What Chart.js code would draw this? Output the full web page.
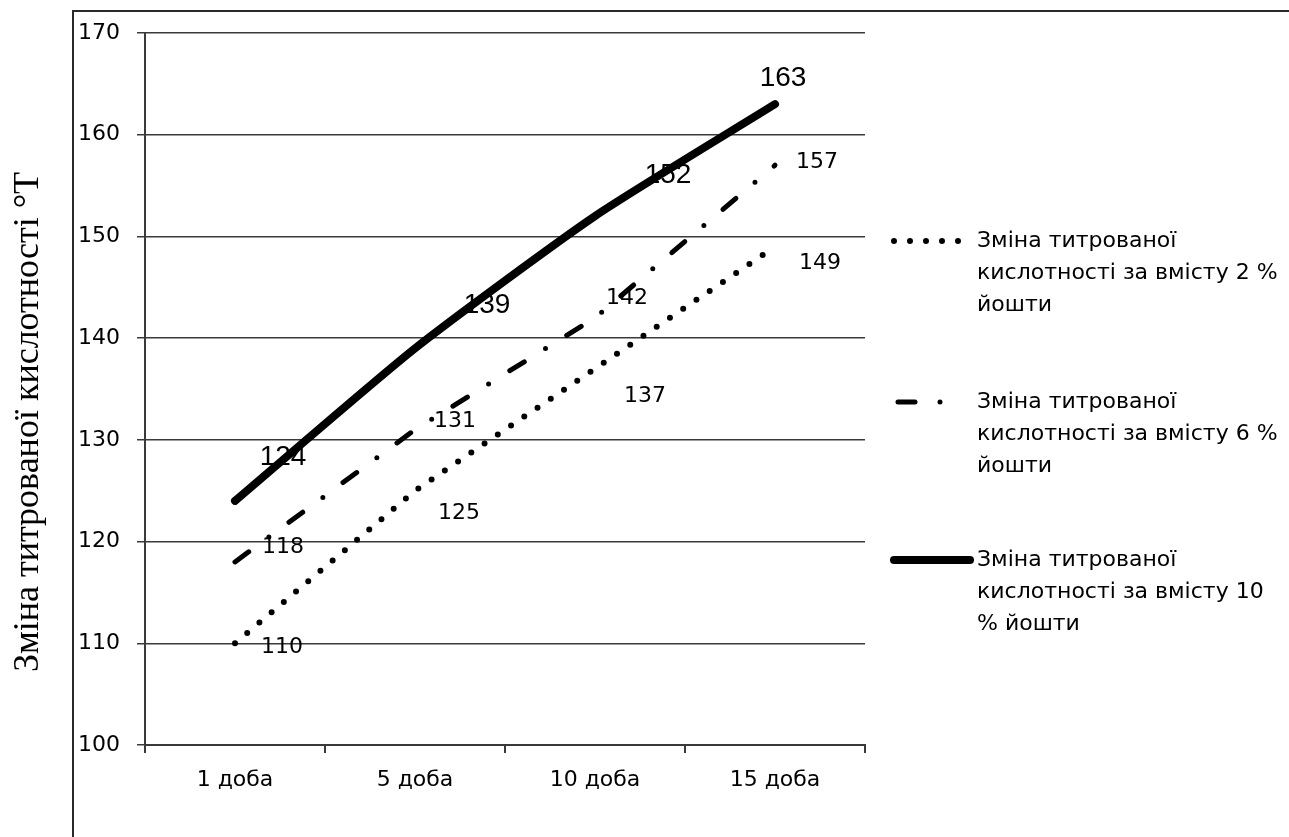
<!DOCTYPE html>
<html><head><meta charset="utf-8">
<script src="https://cdn.jsdelivr.net/npm/chart.js@4/dist/chart.umd.min.js"></script>
<style>html,body{margin:0;padding:0;background:#fff;overflow:hidden}#wrap{width:1289px;height:837px;position:relative}</style>
</head><body><div id="wrap"><canvas id="c" width="1289" height="837"></canvas></div>
<script>
// ---- data ----
const categories = ["1 доба", "5 доба", "10 доба", "15 доба"];
const seriesNames = [
  "Зміна титрованої кислотності за вмісту 2 % йошти",
  "Зміна титрованої кислотності за вмісту 6 % йошти",
  "Зміна титрованої кислотності за вмісту 10 % йошти"
];
const values2 = [110, 125, 137, 149];
const values6 = [118, 131, 142, 157];
const values10 = [124, 139, 152, 163];
const yMin = 100, yMax = 170, yStep = 10;
const yAxisTitle = "Зміна титрованої кислотності °Т";

// ---- styles ----
const INK = '#000';
const GRID = '#3a3a3a';
const labelOffsets = [
  [[47, 4], [44, 23], [50, 28], [45, 17]],
  [[48, -15], [40, -8], [32, -20], [42, -3]],
  [[48, -44], [72, -43], [73, -41], [8, -26]]
];
const labelFonts = ['22px "DejaVu Sans"', '22px "DejaVu Sans"', '28px "Liberation Sans"'];
const legendSampleEnds = [968, 950, 970];

const framePlugin = {
  id: 'frame',
  beforeDraw(chart) {
    const ctx = chart.ctx;
    ctx.save();
    ctx.fillStyle = '#fff';
    ctx.fillRect(0, 0, chart.width, chart.height);
    ctx.strokeStyle = '#2a2a2a';
    ctx.lineWidth = 2;
    ctx.beginPath();
    ctx.moveTo(73, chart.height + 5);
    ctx.lineTo(73, 11);
    ctx.lineTo(chart.width + 5, 11);
    ctx.stroke();
    // y-axis title
    ctx.translate(29, 422);
    ctx.rotate(-Math.PI / 2);
    ctx.fillStyle = INK;
    ctx.font = '36px "Liberation Serif"';
    ctx.textAlign = 'center';
    ctx.textBaseline = 'middle';
    ctx.fillText(yAxisTitle, 0, 0);
    ctx.restore();
  }
};

const labelsPlugin = {
  id: 'pointLabels',
  afterDatasetsDraw(chart) {
    const ctx = chart.ctx;
    ctx.save();
    ctx.fillStyle = INK;
    ctx.textAlign = 'center';
    ctx.textBaseline = 'middle';
    chart.data.datasets.forEach((ds, di) => {
      const meta = chart.getDatasetMeta(di);
      ctx.font = labelFonts[di];
      meta.data.forEach((pt, i) => {
        const o = labelOffsets[di][i];
        ctx.fillText(String(ds.data[i]), pt.x + o[0], pt.y + o[1]);
      });
    });
    ctx.restore();
  }
};

function wrapText(ctx, text, maxW) {
  const words = text.split(' ');
  const lines = [];
  let cur = '';
  words.forEach(w => {
    const t = cur ? cur + ' ' + w : w;
    if (ctx.measureText(t).width > maxW && cur) { lines.push(cur); cur = w; }
    else cur = t;
  });
  if (cur) lines.push(cur);
  return lines;
}

const legendPlugin = {
  id: 'sideLegend',
  afterDraw(chart) {
    const ctx = chart.ctx;
    const tops = [241, 402, 560];
    ctx.save();
    chart.data.datasets.forEach((ds, di) => {
      const y = tops[di];
      ctx.save();
      ctx.strokeStyle = ds.borderColor;
      ctx.lineWidth = ds.borderWidth;
      ctx.lineCap = ds.borderCapStyle || 'butt';
      ctx.setLineDash(ds.borderDash || []);
      ctx.beginPath();
      ctx.moveTo(di === 1 ? 898 : 894, y);
      ctx.lineTo(legendSampleEnds[di], y);
      ctx.stroke();
      ctx.restore();
      ctx.fillStyle = INK;
      ctx.font = '22px "DejaVu Sans"';
      ctx.textAlign = 'left';
      ctx.textBaseline = 'middle';
      const lines = wrapText(ctx, ds.label, 307);
      lines.forEach((ln, li) => ctx.fillText(ln, 977, y + li * 32));
    });
    ctx.restore();
  }
};

const yTickValues = [];
for (let v = yMin; v <= yMax; v += yStep) yTickValues.push(v);

new Chart(document.getElementById('c'), {
  type: 'line',
  data: {
    labels: categories,
    datasets: [
      { label: seriesNames[0], data: values2, borderColor: '#000', borderWidth: 6,
        borderDash: [0, 16], borderCapStyle: 'round', pointRadius: 0, tension: 0, fill: false },
      { label: seriesNames[1], data: values6, borderColor: '#000', borderWidth: 5,
        borderDash: [17, 25, 0, 25], borderCapStyle: 'round', pointRadius: 0, tension: 0, fill: false },
      { label: seriesNames[2], data: values10, borderColor: '#000', borderWidth: 8,
        borderCapStyle: 'round', borderJoinStyle: 'round', pointRadius: 0, tension: 0.2, fill: false }
    ]
  },
  options: {
    responsive: false,
    animation: false,
    devicePixelRatio: 1,
    layout: { padding: { top: 33, right: 424, bottom: 0, left: 0 } },
    plugins: { legend: { display: false }, tooltip: { enabled: false } },
    scales: {
      x: {
        type: 'category', offset: true,
        grid: { display: true, drawOnChartArea: false, drawTicks: true, tickLength: 8, color: GRID, lineWidth: 2, offset: true },
        border: { display: true, color: GRID, width: 2 },
        ticks: { color: INK, font: { family: 'DejaVu Sans', size: 22 }, padding: 14, maxRotation: 0, autoSkip: false },
        afterFit(s) { s.height = 92; }
      },
      y: {
        min: yMin, max: yMax,
        afterBuildTicks(s) { s.ticks = yTickValues.map(v => ({ value: v })); },
        grid: { color: GRID, lineWidth: 1.5, tickLength: 8, drawTicks: true },
        border: { display: true, color: GRID, width: 2 },
        ticks: { color: INK, font: { family: 'DejaVu Sans', size: 22 }, padding: 17 },
        afterFit(s) { s.width = 145; }
      }
    }
  },
  plugins: [framePlugin, labelsPlugin, legendPlugin]
});
</script></body></html>
